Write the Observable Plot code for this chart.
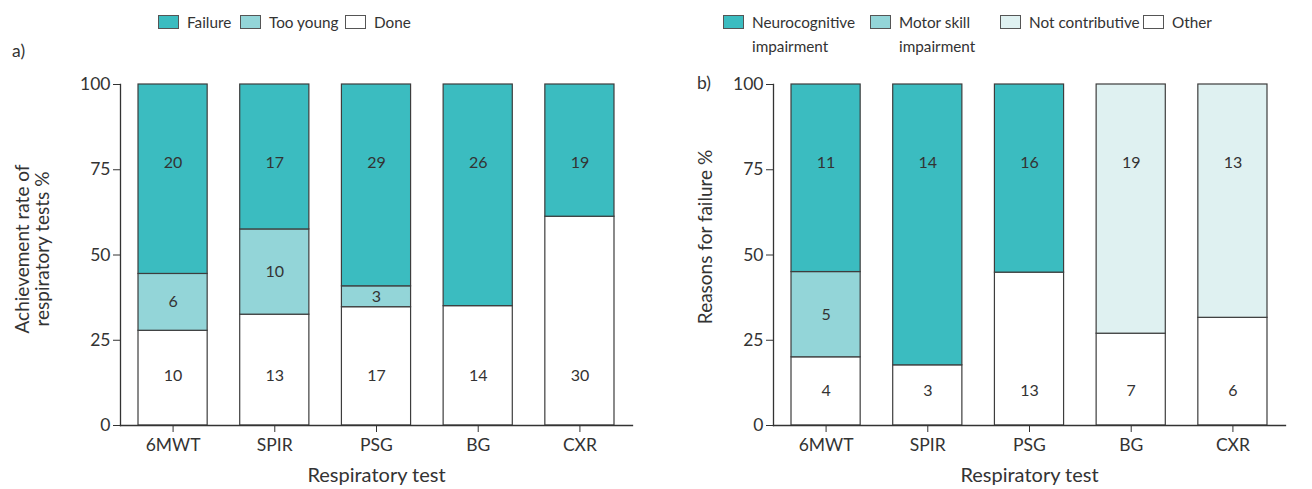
<!DOCTYPE html>
<html>
<head>
<meta charset="utf-8">
<script src="https://cdn.jsdelivr.net/npm/d3@7"></script>
<script src="https://cdn.jsdelivr.net/npm/@observablehq/plot@0.6"></script>
<style>
  html, body { margin: 0; padding: 0; background: #fff; overflow: hidden; }
  body { font-family: Lato, "Noto Sans", sans-serif; color: #333; }
  #root { position: relative; width: 1312px; height: 489px; }
  .panel { position: absolute; top: 70px; }
  .leg { position: absolute; display: flex; align-items: flex-start; font-size: 15.3px; line-height: 24px; color: #333; white-space: nowrap; }
  .sw { width: 19px; height: 12px; border: 1.3px solid #555; margin-top: 5px; margin-right: 8px; flex: none; }
  .tag { position: absolute; font-size: 17.5px; color: #333; }
</style>
</head>
<body>
<div id="root"></div>
<script>
// ---- data ----
const tests = ["6MWT", "SPIR", "PSG", "BG", "CXR"];

const achieveCats = ["Done", "Too young", "Failure"];           // bottom -> top
const doneCounts = [10, 13, 17, 14, 30];
const tooYoungCounts = [6, 10, 3, 0, 0];
const failureCounts = [20, 17, 29, 26, 19];

const reasonCats = ["Other", "Motor skill impairment", "Not contributive", "Neurocognitive impairment"]; // bottom -> top
const otherCounts = [4, 3, 13, 7, 6];
const motorCounts = [5, 0, 0, 0, 0];
const notContribCounts = [0, 0, 0, 19, 13];
const neuroCounts = [11, 14, 16, 0, 0];

const yTicks = [0, 25, 50, 75, 100];

const achieveLegend = ["Failure", "Too young", "Done"];
const reasonLegend = ["Neurocognitive\nimpairment", "Motor skill\nimpairment", "Not contributive", "Other"];

// ---- styles ----
const colA = { "Failure": "#3bbcc0", "Too young": "#93d5d8", "Done": "#ffffff" };
const colB = { "Neurocognitive impairment": "#3bbcc0", "Motor skill impairment": "#93d5d8", "Not contributive": "#dff1f1", "Other": "#ffffff" };

function buildRows(cats, countsList, topLabelY, bottomLabelY) {
  const rows = [];
  tests.forEach((t, i) => {
    const total = countsList.reduce((s, c) => s + c[i], 0);
    let cum = 0;
    const segs = [];
    cats.forEach((cat, k) => {
      const v = countsList[k][i];
      if (v > 0) {
        const y1 = cum / total * 100;
        cum += v;
        const y2 = cum / total * 100;
        segs.push({ test: t, cat, count: v, y1, y2 });
      }
    });
    segs.forEach((s, j) => {
      if (j === segs.length - 1) s.ly = topLabelY;
      else if (j === 0) s.ly = bottomLabelY;
      else s.ly = (s.y1 + s.y2) / 2;
      rows.push(s);
    });
  });
  return rows;
}

const rowsA = buildRows(achieveCats, [doneCounts, tooYoungCounts, failureCounts], 77, 14.5);
const rowsB = buildRows(reasonCats, [otherCounts, motorCounts, notContribCounts, neuroCounts], 77, 10.3);

function chart(rows, colors, opts) {
  return Plot.plot({
    width: opts.width,
    height: 419,
    marginLeft: opts.ml,
    marginRight: opts.mr,
    marginTop: 14,
    marginBottom: 64,
    style: { fontFamily: "Lato, 'Noto Sans', sans-serif", fontSize: "17.5px", color: "#333", background: "transparent", overflow: "visible" },
    x: { domain: tests, paddingInner: 0.32, paddingOuter: 0.177, round: false, label: null },
    y: { domain: [0, 100], label: null },
    color: { domain: Object.keys(colors), range: Object.values(colors) },
    marks: [
      Plot.barY(rows, { x: "test", y1: "y1", y2: "y2", fill: "cat", stroke: "#3d3d3d", strokeWidth: 1.2 }),
      Plot.text(rows, { x: "test", y: "ly", text: d => String(d.count), fontSize: 16, fill: "#333" }),
      Plot.axisY({ ticks: yTicks, tickSize: 7, tickPadding: 3, label: null, fontSize: 17.5, stroke: "#333" }),
      Plot.axisX({ tickSize: 7, tickPadding: 6, label: null, fontSize: 17.5, stroke: "#333" }),
      Plot.frame({ anchor: "left", stroke: "#333", strokeWidth: 1.3 }),
      Plot.frame({ anchor: "bottom", stroke: "#333", strokeWidth: 1.3 }),
      Plot.text(["Respiratory test"], { text: d => d, frameAnchor: "bottom", dy: 56, fontSize: 20, fill: "#333" }),
      Plot.text([opts.ylabel], { text: d => d, frameAnchor: "left", textAnchor: "middle", lineAnchor: "middle", dx: opts.ydx, dy: opts.ydy, rotate: -90, fontSize: 19, lineHeight: 1.08, fill: "#333" })
    ]
  });
}

const root = document.getElementById("root");

const pa = document.createElement("div");
pa.className = "panel"; pa.style.left = "0px";
pa.appendChild(chart(rowsA, colA, { width: 660, ml: 120, mr: 28, ylabel: "Achievement rate of\nrespiratory tests %", ydx: -88, ydy: -6 }));
root.appendChild(pa);

const pb = document.createElement("div");
pb.className = "panel"; pb.style.left = "660px";
pb.appendChild(chart(rowsB, colB, { width: 652, ml: 113, mr: 27, ylabel: "Reasons for failure %", ydx: -68, ydy: -18 }));
root.appendChild(pb);

// legends
function legend(items, colorsList, xs) {
  items.forEach((lab, i) => {
    const d = document.createElement("div");
    d.className = "leg";
    d.style.left = xs[i] + "px";
    d.style.top = "10px";
    const sw = document.createElement("div");
    sw.className = "sw";
    sw.style.background = colorsList[i];
    const tx = document.createElement("div");
    tx.innerHTML = lab.split("\n").join("<br>");
    d.appendChild(sw); d.appendChild(tx);
    root.appendChild(d);
  });
}
legend(achieveLegend, achieveLegend.map(k => colA[k]), [158, 240, 345]);
legend(reasonLegend, ["#3bbcc0", "#93d5d8", "#dff1f1", "#ffffff"], [723, 870, 1000, 1143]);

function tag(t, x, y) {
  const d = document.createElement("div");
  d.className = "tag"; d.textContent = t;
  d.style.left = x + "px"; d.style.top = y + "px";
  root.appendChild(d);
}
tag("a)", 12, 40);
tag("b)", 697, 72);
</script>
</body>
</html>
